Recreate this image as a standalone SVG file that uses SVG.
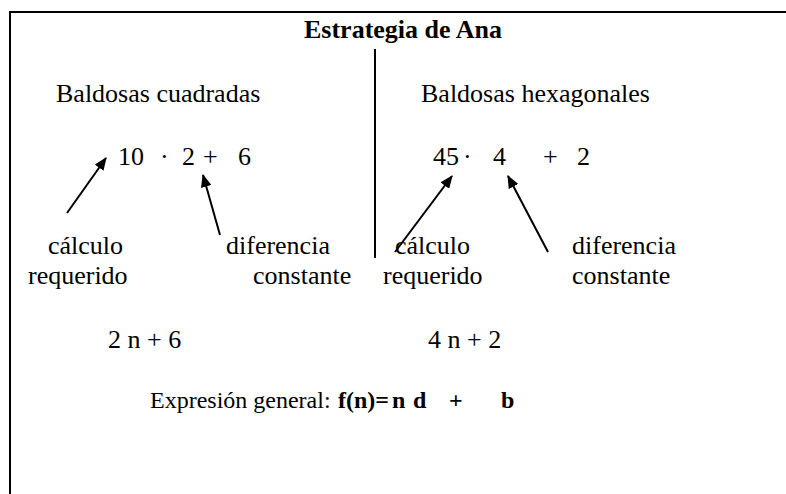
<svg xmlns="http://www.w3.org/2000/svg" width="786" height="494" viewBox="0 0 786 494">
<style>
text{font-family:"Liberation Serif","Times New Roman",serif;font-size:26px;fill:#000}
.b{font-weight:bold}
.s{font-size:24px}
.ln{stroke:#000;stroke-width:2;fill:none}
</style>
<defs>
<marker id="ah" viewBox="0 0 12 10" refX="11" refY="5" markerWidth="6.5" markerHeight="5.5" orient="auto" markerUnits="strokeWidth">
<path d="M0,0 L12,5 L0,10 z" fill="#000"/>
</marker>
</defs>
<rect width="786" height="494" fill="#fff"/>
<g id="frame">
<path class="ln" d="M10,494 V12 H786"/>
<path class="ln" d="M375,49 V258"/>
</g>
<g id="title"><text class="b" x="304" y="38">Estrategia de Ana</text></g>
<g id="left">
<text x="56" y="102">Baldosas cuadradas</text>
<text x="118" y="165">10</text>
<text x="160" y="165">·</text>
<text x="182" y="165">2</text>
<text x="203" y="165">+</text>
<text x="238" y="165">6</text>
<text x="48" y="254">cálculo</text>
<text x="28" y="284">requerido</text>
<text x="226" y="254">diferencia</text>
<text x="253" y="284">constante</text>
<text x="108" y="348">2 n + 6</text>
</g>
<g id="right">
<text x="421" y="102">Baldosas hexagonales</text>
<text x="433" y="165">45</text>
<text x="463" y="165">·</text>
<text x="493" y="165">4</text>
<text x="543" y="165">+</text>
<text x="577" y="165">2</text>
<text x="395" y="254">cálculo</text>
<text x="383" y="284">requerido</text>
<text x="572" y="254">diferencia</text>
<text x="572" y="284">constante</text>
<text x="428" y="348">4 n + 2</text>
</g>
<g id="general">
<text class="s" x="150" y="408">Expresión general:</text>
<text class="s b" x="338" y="408">f(n)=</text>
<text class="s b" x="392" y="408">n</text>
<text class="s b" x="413" y="408">d</text>
<text class="s b" x="449" y="408">+</text>
<text class="s b" x="501" y="408">b</text>
</g>
<g id="connectors">
<line class="ln" x1="67" y1="213" x2="106" y2="158" marker-end="url(#ah)"/>
<line class="ln" x1="220" y1="235" x2="203" y2="175" marker-end="url(#ah)"/>
<line class="ln" x1="395" y1="252" x2="452" y2="176" marker-end="url(#ah)"/>
<line class="ln" x1="548" y1="252" x2="508" y2="176" marker-end="url(#ah)"/>
</g>
</svg>
